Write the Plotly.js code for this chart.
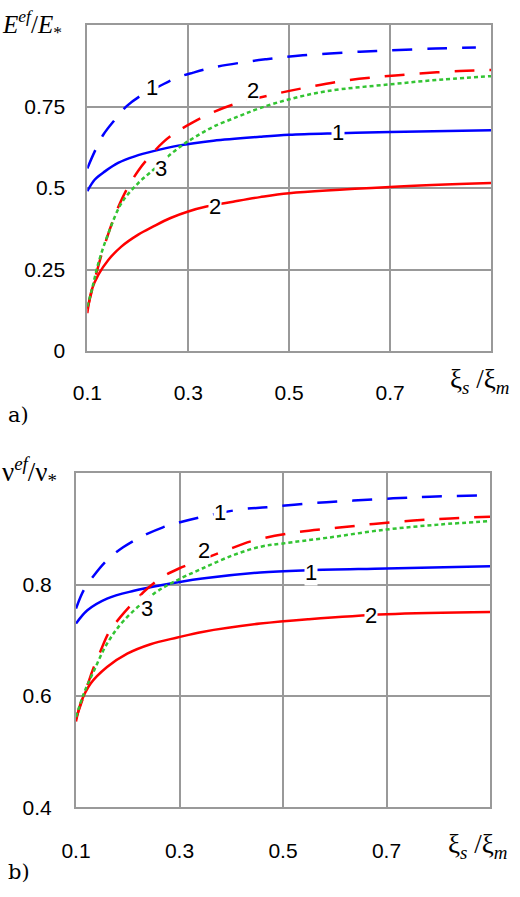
<!DOCTYPE html>
<html>
<head>
<meta charset="utf-8">
<script src="https://cdn.plot.ly/plotly-3.0.1.min.js"></script>
<style>html,body{margin:0;padding:0;background:#fff;}#plot{width:520px;height:897px;}</style>
</head>
<body>
<div id="plot"></div>
<script>
// ---- Panel a) E^ef / E* ----
const aDash1X = [0.1, 0.115, 0.132, 0.155, 0.178, 0.21, 0.24, 0.277, 0.31, 0.35, 0.42, 0.455, 0.527, 0.64, 0.7, 0.79, 0.87];
const aDash1Y = [0.56, 0.613, 0.664, 0.71, 0.751, 0.787, 0.81, 0.838, 0.854, 0.87, 0.888, 0.895, 0.907, 0.918, 0.922, 0.928, 0.931];
const aSolid1X = [0.1, 0.115, 0.135, 0.161, 0.194, 0.231, 0.28, 0.35, 0.442, 0.5, 0.6, 0.7, 0.9];
const aSolid1Y = [0.49, 0.526, 0.551, 0.577, 0.597, 0.613, 0.63, 0.645, 0.657, 0.663, 0.668, 0.672, 0.677];
const aSolid2X = [0.1, 0.109, 0.122, 0.142, 0.168, 0.201, 0.231, 0.265, 0.3, 0.336, 0.389, 0.442, 0.5, 0.7, 0.9];
const aSolid2Y = [0.116, 0.188, 0.234, 0.28, 0.321, 0.357, 0.382, 0.408, 0.428, 0.443, 0.458, 0.472, 0.484, 0.503, 0.515];
const aDash2X = [0.1, 0.11, 0.12, 0.13, 0.14, 0.15, 0.161, 0.178, 0.201, 0.221, 0.25, 0.277, 0.31, 0.346, 0.389, 0.468, 0.54, 0.614, 0.686, 0.758, 0.838, 0.9];
const aDash2Y = [0.13, 0.19, 0.25, 0.305, 0.352, 0.397, 0.44, 0.495, 0.553, 0.592, 0.64, 0.672, 0.702, 0.73, 0.756, 0.787, 0.81, 0.83, 0.842, 0.851, 0.859, 0.862];
const aDot3X = [0.1, 0.109, 0.122, 0.142, 0.168, 0.201, 0.231, 0.26, 0.287, 0.313, 0.35, 0.4, 0.442, 0.5, 0.574, 0.7, 0.805, 0.9];
const aDot3Y = [0.136, 0.188, 0.27, 0.362, 0.454, 0.515, 0.556, 0.597, 0.63, 0.656, 0.688, 0.72, 0.745, 0.772, 0.797, 0.818, 0.833, 0.843];

// ---- Panel b) nu^ef / nu* ----
const bDash1X = [0.1, 0.115, 0.135, 0.16, 0.191, 0.224, 0.268, 0.301, 0.34, 0.417, 0.469, 0.565, 0.636, 0.713, 0.784, 0.88];
const bDash1Y = [0.757, 0.79, 0.817, 0.844, 0.867, 0.885, 0.903, 0.912, 0.921, 0.935, 0.939, 0.947, 0.951, 0.955, 0.958, 0.96];
const bSolid1X = [0.1, 0.122, 0.16, 0.212, 0.264, 0.344, 0.456, 0.55, 0.7, 0.9];
const bSolid1Y = [0.73, 0.754, 0.775, 0.789, 0.799, 0.811, 0.822, 0.826, 0.829, 0.833];
const bSolid2X = [0.1, 0.109, 0.128, 0.16, 0.199, 0.244, 0.296, 0.344, 0.456, 0.55, 0.7, 0.9];
const bSolid2Y = [0.554, 0.587, 0.622, 0.652, 0.676, 0.693, 0.705, 0.715, 0.73, 0.738, 0.747, 0.751];
const bDash2X = [0.1, 0.122, 0.132, 0.148, 0.164, 0.186, 0.212, 0.238, 0.267, 0.299, 0.341, 0.391, 0.443, 0.526, 0.604, 0.675, 0.752, 0.823, 0.9];
const bDash2Y = [0.56, 0.619, 0.646, 0.682, 0.715, 0.742, 0.769, 0.793, 0.814, 0.829, 0.844, 0.862, 0.879, 0.894, 0.902, 0.909, 0.915, 0.919, 0.922];
const bDot3X = [0.1, 0.115, 0.135, 0.16, 0.193, 0.251, 0.289, 0.344, 0.404, 0.456, 0.5, 0.584, 0.7, 0.803, 0.9];
const bDot3Y = [0.562, 0.604, 0.646, 0.694, 0.736, 0.784, 0.805, 0.829, 0.853, 0.868, 0.874, 0.884, 0.899, 0.908, 0.914];

const xTicks = [0.1, 0.3, 0.5, 0.7, 0.9];
const xTickText = ['0.1', '0.3', '0.5', '0.7', ''];
const aYTicks = [0, 0.25, 0.5, 0.75, 1];
const aYTickText = ['0', '0.25', '0.5', '0.75', ''];
const bYTicks = [0.4, 0.6, 0.8, 1.0];
const bYTickText = ['0.4', '0.6', '0.8', ''];

const BLUE = '#0000ff', RED = '#ff0000', GREEN = '#33c433';
const LW = 2.5;
function tr(x, y, color, dash, xa, ya) {
  return {x: x, y: y, xaxis: xa, yaxis: ya, type: 'scatter', mode: 'lines',
    line: {color: color, width: LW, dash: dash, shape: 'spline', smoothing: 1},
    hoverinfo: 'skip', showlegend: false};
}
const DASH = '20px,15px', DOT = '4px,3px';
const data = [
  tr(aDash1X, aDash1Y, BLUE, DASH, 'x', 'y'),
  tr(aSolid1X, aSolid1Y, BLUE, 'solid', 'x', 'y'),
  tr(aSolid2X, aSolid2Y, RED, 'solid', 'x', 'y'),
  tr(aDash2X, aDash2Y, RED, DASH, 'x', 'y'),
  tr(aDot3X, aDot3Y, GREEN, DOT, 'x', 'y'),
  tr(bDash1X, bDash1Y, BLUE, DASH, 'x2', 'y2'),
  tr(bSolid1X, bSolid1Y, BLUE, 'solid', 'x2', 'y2'),
  tr(bSolid2X, bSolid2Y, RED, 'solid', 'x2', 'y2'),
  tr(bDash2X, bDash2Y, RED, DASH, 'x2', 'y2'),
  tr(bDot3X, bDot3Y, GREEN, DOT, 'x2', 'y2')
];

const GRID = '#999999';
const tickFont = {family: 'Liberation Sans, Arial, sans-serif', size: 21, color: '#000'};
function axis(extra) {
  return Object.assign({
    showline: true, mirror: true, linecolor: GRID, linewidth: 2,
    showgrid: true, gridcolor: GRID, gridwidth: 2, zeroline: false,
    ticks: 'outside', tickcolor: 'rgba(0,0,0,0)', tickmode: 'array',
    tickfont: tickFont, fixedrange: true
  }, extra);
}

const W = 520, H = 897;
const px = v => v / W, py = v => 1 - v / H;

const lblFont = {family: 'Liberation Sans Narrow, Liberation Sans, Arial, sans-serif', size: 22, color: '#000'};
function lbl(t, x, y, xr, yr) {
  return {text: t, x: x, y: y, xref: xr, yref: yr, showarrow: false, font: lblFont,
    bgcolor: '#ffffff', borderpad: 0, xanchor: 'center', yanchor: 'middle'};
}
const serif = 'Liberation Serif, Times New Roman, serif';
function ptxt(t, x, y, size, fam) {
  return {text: t, x: px(x), y: py(y), xref: 'paper', yref: 'paper', showarrow: false,
    xanchor: 'left', yanchor: 'middle', font: {family: fam || serif, size: size, color: '#000'}};
}

const layout = {
  width: W, height: H, margin: {l: 0, r: 0, t: 0, b: 0},
  paper_bgcolor: '#fff', plot_bgcolor: '#fff', showlegend: false,
  xaxis: axis({domain: [px(87.3), px(491)], range: [0.1, 0.9], tickvals: xTicks, ticktext: xTickText, ticklen: 22, anchor: 'y'}),
  yaxis: axis({domain: [py(351), py(25)], range: [0, 1], tickvals: aYTicks, ticktext: aYTickText, ticklen: 16, anchor: 'x'}),
  xaxis2: axis({domain: [px(76), px(490)], range: [0.1, 0.9], tickvals: xTicks, ticktext: xTickText, ticklen: 23, anchor: 'y2'}),
  yaxis2: axis({domain: [py(807.3), py(473.3)], range: [0.4, 1.0], tickvals: bYTicks, ticktext: bYTickText, ticklen: 18, anchor: 'x2'}),
  annotations: [
    lbl('1', 0.228, 0.808, 'x', 'y'),
    lbl('2', 0.428, 0.799, 'x', 'y'),
    lbl('1', 0.596, 0.670, 'x', 'y'),
    lbl('2', 0.353, 0.443, 'x', 'y'),
    lbl('3', 0.246, 0.560, 'x', 'y'),
    lbl('1', 0.378, 0.930, 'x2', 'y2'),
    lbl('2', 0.347, 0.862, 'x2', 'y2'),
    lbl('3', 0.237, 0.757, 'x2', 'y2'),
    lbl('1', 0.555, 0.821, 'x2', 'y2'),
    lbl('2', 0.671, 0.745, 'x2', 'y2'),
    ptxt('<i>E</i><sup><i>ef</i></sup>/<i>E</i><sub>*</sub>', 0, 24, 25),
    ptxt('ν<sup><i>ef</i></sup>/ν<sub>*</sub>', 0, 472, 27),
    ptxt('ξ<sub><i>s</i></sub> /ξ<sub><i>m</i></sub>', 448, 381, 27),
    ptxt('ξ<sub><i>s</i></sub> /ξ<sub><i>m</i></sub>', 446, 846, 27),
    ptxt('a)', 6, 415, 21, 'DejaVu Serif, serif'),
    ptxt('b)', 6, 872, 21, 'DejaVu Serif, serif')
  ]
};

Plotly.newPlot('plot', data, layout, {displayModeBar: false, staticPlot: true});
</script>
</body>
</html>
